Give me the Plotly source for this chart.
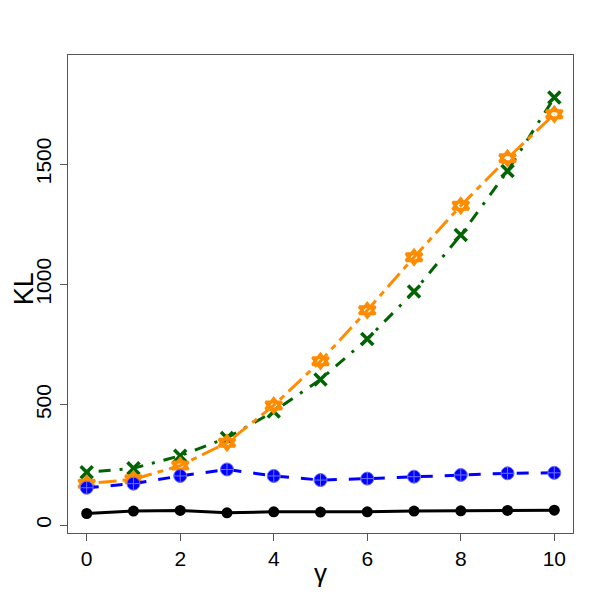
import plotly.graph_objects as go

# data
gamma = [0, 1, 2, 3, 4, 5, 6, 7, 8, 9, 10]
kl_black = [48, 58, 61, 51, 55, 54, 55, 58, 59, 61, 62]
kl_blue = [155, 172, 204, 231, 204, 187, 193, 201, 208, 215, 217]
kl_green = [219, 236, 288, 362, 472, 605, 773, 970, 1205, 1471, 1776]
kl_orange = [172, 190, 247, 342, 497, 681, 892, 1113, 1327, 1524, 1707]

lw = 3

fig = go.Figure()

# solid black, filled dots
fig.add_trace(go.Scatter(x=gamma, y=kl_black, mode="lines+markers",
                         line=dict(color="black", width=lw),
                         marker=dict(symbol="circle", size=11, color="black")))

# dark green dot-dash with crosses
fig.add_trace(go.Scatter(x=gamma, y=kl_green, mode="lines+markers",
                         line=dict(color="#006400", width=lw, dash="3px,9px,12px,9px"),
                         marker=dict(symbol="x-thin-open", size=12,
                                     line=dict(color="#006400", width=3.5))))

# dark orange two-dash with star of david (two open triangles)
fig.add_trace(go.Scatter(x=gamma, y=kl_orange, mode="lines",
                         line=dict(color="#FF8C00", width=lw, dash="6px,6px,18px,6px")))
for sym in ["triangle-up-open", "triangle-down-open"]:
    fig.add_trace(go.Scatter(x=gamma, y=kl_orange, mode="markers",
                             marker=dict(symbol=sym, size=14, color="#FF8C00",
                                         line=dict(color="#FF8C00", width=3))))

# blue dashed, circle with plus
fig.add_trace(go.Scatter(x=gamma, y=kl_blue, mode="lines+markers",
                         line=dict(color="#0000FF", width=lw, dash="12px,12px"),
                         marker=dict(symbol="circle-cross", size=13, color="#0000FF",
                                     line=dict(color="#7070FF", width=1))))

# page has an 8px body margin, so the figure is 593 wide and shifted
fnt = "Liberation Sans"
fig.update_layout(
    width=593, height=593,
    margin=dict(l=60, r=28, t=47, b=68),
    plot_bgcolor="white", paper_bgcolor="white",
    showlegend=False,
    font=dict(family=fnt, color="black", size=20),
    xaxis=dict(range=[-0.4, 10.4], tickvals=[0, 2, 4, 6, 8, 10], automargin=False,
               showgrid=False, zeroline=False, showline=True, mirror=True,
               linecolor="#555555", linewidth=1.3,
               ticks="outside", ticklen=7, tickcolor="#555555",
               tickfont=dict(size=21)),
    yaxis=dict(range=[-33, 1953], tickvals=[0, 500, 1000, 1500], automargin=False,
               showgrid=False, zeroline=False, showline=True, mirror=True,
               linecolor="#555555", linewidth=1.3,
               ticks="outside", ticklen=7, tickcolor="#555555",
               tickangle=-90, tickfont=dict(size=21)),
)

# axis titles placed by hand, R puts them closer than plotly does
fig.add_annotation(text="γ", xref="paper", yref="paper", x=0.5, y=-0.048,
                   yanchor="top", showarrow=False, font=dict(size=26))
fig.add_annotation(text="KL", xref="paper", yref="paper", x=-0.087, y=0.51,
                   xanchor="center", yanchor="middle", textangle=-90,
                   showarrow=False, font=dict(size=27))

fig.write_html("out.html")
